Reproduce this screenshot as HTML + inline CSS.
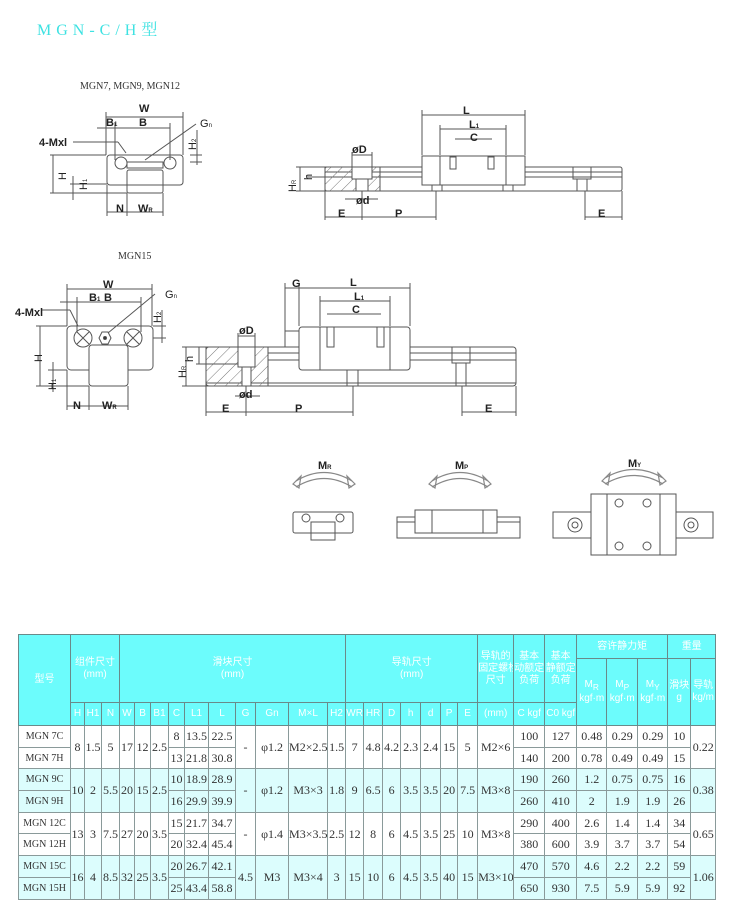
<!DOCTYPE html>
<html><head><meta charset="utf-8">
<style>
body{margin:0;width:730px;height:917px;background:#fff;position:relative;overflow:hidden;font-family:"Liberation Serif","Noto Serif CJK SC",serif;}
.t{position:absolute;white-space:nowrap}
table{position:absolute;left:18px;top:634px;width:697px;border-collapse:collapse;table-layout:fixed;font-size:12px;color:#333}
td{border:1px solid #8a9a9a;text-align:center;padding:0;overflow:hidden;white-space:nowrap}
.h td{background:#6cfcfc;color:#fff;font-family:"Liberation Sans","Noto Sans CJK SC",sans-serif;font-size:10px;border-color:#6a8a8a;line-height:12px}
.a td{background:#dcfdfd}
.w td{background:#fff}
.m{font-size:10px}
</style></head><body>
<div class="t" style="left:37px;top:17px;font-size:16px;color:#3ee2e2;letter-spacing:5px;font-family:'Liberation Serif','Noto Serif CJK SC',serif">MGN-C/H型</div>
<div class="t" style="left:80px;top:81px;font-size:10px;color:#333">MGN7, MGN9, MGN12</div>
<div class="t" style="left:118px;top:251px;font-size:10px;color:#333">MGN15</div>

<svg width="730" height="620" style="position:absolute;left:0;top:0" font-family="Liberation Sans,sans-serif" fill="none" stroke="#555" stroke-width="1">
<defs><pattern id="hp" width="8" height="8" patternUnits="userSpaceOnUse" patternTransform="rotate(45)"><line x1="0" y1="0" x2="0" y2="8" stroke="#777"/></pattern></defs>
<!-- MGN7 cross-section -->
<rect x="107" y="155" width="76" height="30" rx="3"/>
<rect x="127" y="170" width="36" height="23" rx="2"/>
<circle cx="121" cy="163" r="6"/><circle cx="170" cy="163" r="6"/>
<rect x="127" y="162" width="36" height="6"/>
<line x1="106" y1="112" x2="106" y2="155"/><line x1="183" y1="112" x2="183" y2="155"/>
<line x1="106" y1="117" x2="183" y2="117"/><line x1="97" y1="128" x2="170" y2="128"/>
<line x1="115" y1="123" x2="115" y2="160"/><line x1="170" y1="123" x2="170" y2="160"/>
<line x1="73" y1="142" x2="118" y2="142"/><line x1="118" y1="142" x2="126" y2="153"/>
<line x1="196" y1="124" x2="145" y2="160"/>
<line x1="190" y1="155" x2="202" y2="155"/><line x1="190" y1="162" x2="202" y2="162"/><line x1="197" y1="130" x2="197" y2="165"/>
<line x1="50" y1="155" x2="106" y2="155"/><line x1="50" y1="193" x2="127" y2="193"/><line x1="53" y1="155" x2="53" y2="193"/>
<line x1="70" y1="184" x2="107" y2="184"/><line x1="73" y1="176" x2="73" y2="200"/>
<line x1="107" y1="185" x2="107" y2="216"/><line x1="127" y1="193" x2="127" y2="216"/><line x1="163" y1="193" x2="163" y2="216"/>
<line x1="107" y1="212" x2="163" y2="212"/>
<!-- MGN7 side -->
<rect x="325" y="167" width="297" height="24" rx="2"/>
<line x1="325" y1="172" x2="622" y2="172"/><line x1="325" y1="177" x2="622" y2="177"/>
<rect x="325" y="167" width="55" height="24" fill="url(#hp)"/>
<rect x="352" y="167" width="20" height="12" fill="#fff"/><rect x="356" y="179" width="12" height="12" fill="#fff"/>
<rect x="422" y="156" width="103" height="29" fill="#fff"/>
<line x1="440" y1="156" x2="440" y2="185"/><line x1="506" y1="156" x2="506" y2="185"/>
<rect x="450" y="157" width="6" height="12"/><rect x="488" y="157" width="6" height="12"/>
<rect x="432" y="185" width="10" height="6"/><rect x="503" y="185" width="10" height="6"/>
<rect x="573" y="167" width="18" height="12"/><rect x="577" y="179" width="10" height="12"/>
<line x1="422" y1="110" x2="422" y2="155"/><line x1="525" y1="110" x2="525" y2="155"/><line x1="422" y1="115" x2="525" y2="115"/>
<line x1="440" y1="125" x2="440" y2="155"/><line x1="506" y1="125" x2="506" y2="155"/><line x1="440" y1="129" x2="506" y2="129"/>
<line x1="455" y1="139" x2="492" y2="139"/>
<line x1="352" y1="155" x2="372" y2="155"/><line x1="352" y1="152" x2="352" y2="167"/><line x1="372" y1="152" x2="372" y2="167"/>
<line x1="345" y1="199" x2="378" y2="199"/>
<line x1="325" y1="191" x2="325" y2="220"/><line x1="362" y1="191" x2="362" y2="220"/><line x1="436" y1="191" x2="436" y2="220"/>
<line x1="325" y1="217" x2="436" y2="217"/>
<line x1="585" y1="191" x2="585" y2="220"/><line x1="622" y1="191" x2="622" y2="220"/><line x1="585" y1="217" x2="622" y2="217"/>
<line x1="296" y1="167" x2="325" y2="167"/><line x1="296" y1="191" x2="325" y2="191"/><line x1="300" y1="167" x2="300" y2="191"/><line x1="306" y1="177" x2="325" y2="177"/>
<!-- MGN15 cross-section -->
<rect x="67" y="326" width="86" height="44" rx="4"/>
<rect x="89" y="345" width="39" height="41" rx="3" fill="#fff"/>
<circle cx="83" cy="338" r="9"/><circle cx="133" cy="338" r="9"/>
<path d="M77 332 L89 344 M89 332 L77 344 M127 332 L139 344 M139 332 L127 344"/>
<polygon points="102,332 108,332 111,338 108,344 102,344 99,338"/>
<circle cx="105" cy="338" r="1.5" fill="#333"/>
<line x1="67" y1="284" x2="67" y2="326"/><line x1="152" y1="284" x2="152" y2="326"/><line x1="67" y1="289" x2="152" y2="289"/>
<line x1="60" y1="302" x2="141" y2="302"/><line x1="77" y1="297" x2="77" y2="332"/><line x1="141" y1="297" x2="141" y2="332"/>
<line x1="42" y1="310" x2="70" y2="310"/><line x1="70" y1="310" x2="78" y2="326"/>
<line x1="155" y1="294" x2="108" y2="333"/>
<line x1="153" y1="326" x2="166" y2="326"/><line x1="153" y1="338" x2="166" y2="338"/><line x1="162" y1="310" x2="162" y2="343"/>
<line x1="36" y1="326" x2="67" y2="326"/><line x1="36" y1="386" x2="89" y2="386"/><line x1="40" y1="326" x2="40" y2="386"/>
<line x1="48" y1="370" x2="67" y2="370"/><line x1="53" y1="362" x2="53" y2="392"/>
<line x1="67" y1="370" x2="67" y2="410"/><line x1="89" y1="386" x2="89" y2="410"/><line x1="128" y1="386" x2="128" y2="410"/>
<line x1="67" y1="406" x2="128" y2="406"/>
<!-- MGN15 side -->
<rect x="206" y="347" width="310" height="39" rx="3"/>
<line x1="268" y1="353" x2="516" y2="353"/><line x1="268" y1="360" x2="516" y2="360"/><line x1="206" y1="383" x2="516" y2="383"/>
<rect x="206" y="347" width="62" height="39" fill="url(#hp)"/>
<rect x="238" y="347" width="17" height="20" fill="#fff"/><rect x="242" y="367" width="9" height="19" fill="#fff"/>
<rect x="285" y="331" width="14" height="16" fill="#fff"/>
<rect x="299" y="327" width="111" height="43" rx="3" fill="#fff"/>
<line x1="320" y1="327" x2="320" y2="370"/><line x1="390" y1="327" x2="390" y2="370"/>
<rect x="327" y="327" width="7" height="20"/><rect x="377" y="327" width="7" height="20"/>
<rect x="347" y="370" width="11" height="16"/>
<rect x="452" y="347" width="18" height="16"/><rect x="456" y="363" width="10" height="23"/>
<line x1="299" y1="283" x2="299" y2="326"/><line x1="410" y1="283" x2="410" y2="326"/><line x1="299" y1="288" x2="410" y2="288"/>
<line x1="285" y1="288" x2="299" y2="288"/><line x1="285" y1="283" x2="285" y2="331"/>
<line x1="320" y1="296" x2="320" y2="326"/><line x1="390" y1="296" x2="390" y2="326"/><line x1="320" y1="301" x2="390" y2="301"/>
<line x1="327" y1="314" x2="381" y2="314"/>
<line x1="238" y1="336" x2="255" y2="336"/><line x1="238" y1="333" x2="238" y2="347"/><line x1="255" y1="333" x2="255" y2="347"/>
<line x1="235" y1="396" x2="260" y2="396"/>
<line x1="206" y1="386" x2="206" y2="416"/><line x1="246" y1="386" x2="246" y2="416"/><line x1="353" y1="386" x2="353" y2="416"/>
<line x1="206" y1="412" x2="353" y2="412"/>
<line x1="462" y1="386" x2="462" y2="416"/><line x1="516" y1="386" x2="516" y2="416"/><line x1="462" y1="412" x2="516" y2="412"/>
<line x1="182" y1="347" x2="206" y2="347"/><line x1="182" y1="386" x2="206" y2="386"/><line x1="186" y1="347" x2="186" y2="386"/>
<line x1="196" y1="364" x2="238" y2="364"/><line x1="199" y1="347" x2="199" y2="364"/>
<!-- moment diagrams -->
<g stroke="#888" stroke-width="1.2">
<path d="M296 487 Q324 470 352 487"/><path d="M296 481 Q324 464 352 481"/><path d="M293 484 l8 -8 l-2 12z M355 484 l-8 -8 l2 12z"/>
<path d="M432 487 Q460 470 488 487"/><path d="M432 481 Q460 464 488 481"/><path d="M429 484 l8 -8 l-2 12z M491 484 l-8 -8 l2 12z"/>
<path d="M605 484 Q634 467 663 484"/><path d="M605 478 Q634 461 663 478"/><path d="M602 481 l8 -8 l-2 12z M666 481 l-8 -8 l2 12z"/>
</g>
<rect x="293" y="512" width="60" height="21" rx="2"/><rect x="311" y="522" width="24" height="18"/>
<circle cx="306" cy="518" r="4"/><circle cx="340" cy="518" r="4"/>
<rect x="397" y="517" width="123" height="21"/><line x1="397" y1="522" x2="520" y2="522"/>
<rect x="415" y="510" width="82" height="23" fill="#fff"/><line x1="432" y1="510" x2="432" y2="533"/><line x1="483" y1="510" x2="483" y2="533"/>
<rect x="553" y="512" width="160" height="26"/>
<rect x="591" y="494" width="85" height="61" fill="#fff"/><line x1="607" y1="494" x2="607" y2="555"/><line x1="660" y1="494" x2="660" y2="555"/>
<circle cx="575" cy="525" r="7"/><circle cx="575" cy="525" r="3"/><circle cx="691" cy="525" r="7"/><circle cx="691" cy="525" r="3"/>
<circle cx="619" cy="503" r="4"/><circle cx="647" cy="503" r="4"/><circle cx="619" cy="546" r="4"/><circle cx="647" cy="546" r="4"/>
<g fill="#222" stroke="none" font-size="11" font-weight="bold">
<text x="139" y="112">W</text><text x="106" y="126">B<tspan font-size="6">1</tspan></text><text x="139" y="126">B</text>
<text x="200" y="127" font-weight="normal">G<tspan font-size="6">n</tspan></text><text x="39" y="146">4-Mxl</text>
<text x="116" y="212">N</text><text x="138" y="212">W<tspan font-size="6">R</tspan></text>
<text x="463" y="114">L</text><text x="469" y="128">L<tspan font-size="6">1</tspan></text><text x="470" y="141">C</text>
<text x="352" y="153">øD</text><text x="356" y="204">ød</text><text x="338" y="217">E</text><text x="395" y="217">P</text><text x="598" y="217">E</text>
<text x="103" y="288">W</text><text x="89" y="301">B<tspan font-size="6">1</tspan></text><text x="104" y="301">B</text>
<text x="165" y="298" font-weight="normal">G<tspan font-size="6">n</tspan></text><text x="15" y="316">4-Mxl</text>
<text x="73" y="409">N</text><text x="102" y="409">W<tspan font-size="6">R</tspan></text>
<text x="292" y="287">G</text><text x="350" y="286">L</text><text x="354" y="300">L<tspan font-size="6">1</tspan></text><text x="352" y="313">C</text>
<text x="239" y="334">øD</text><text x="239" y="398">ød</text><text x="222" y="412">E</text><text x="295" y="412">P</text><text x="485" y="412">E</text>
<text x="318" y="469">M<tspan font-size="6">R</tspan></text><text x="455" y="469">M<tspan font-size="6">P</tspan></text><text x="628" y="467">M<tspan font-size="6">Y</tspan></text>
<g font-weight="normal"><text transform="translate(66,180) rotate(-90)">H</text><text transform="translate(87,190) rotate(-90)">H<tspan font-size="6">1</tspan></text>
<text transform="translate(196,150) rotate(-90)">H<tspan font-size="6">2</tspan></text><text transform="translate(296,192) rotate(-90)">H<tspan font-size="6">R</tspan></text><text transform="translate(312,180) rotate(-90)">h</text>
<text transform="translate(42,362) rotate(-90)">H</text><text transform="translate(56,390) rotate(-90)">H<tspan font-size="6">1</tspan></text>
<text transform="translate(161,323) rotate(-90)">H<tspan font-size="6">2</tspan></text><text transform="translate(186,378) rotate(-90)">H<tspan font-size="6">R</tspan></text><text transform="translate(193,362) rotate(-90)">h</text></g>
</g>
</svg>

<table>
<colgroup>
<col style="width:52px"><col style="width:14px"><col style="width:17px"><col style="width:18px"><col style="width:15px"><col style="width:16px"><col style="width:18px"><col style="width:16px"><col style="width:24px"><col style="width:27px"><col style="width:20px"><col style="width:33px"><col style="width:39px"><col style="width:18px"><col style="width:18px"><col style="width:19px"><col style="width:18px"><col style="width:20px"><col style="width:20px"><col style="width:17px"><col style="width:20px"><col style="width:36px"><col style="width:31px"><col style="width:32px"><col style="width:30px"><col style="width:31px"><col style="width:30px"><col style="width:23px"><col style="width:25px">
</colgroup>
<tr class="h" style="height:24px"><td rowspan="3">型号</td><td colspan="3" rowspan="2">组件尺寸<br>(mm)</td><td colspan="10" rowspan="2">滑块尺寸<br>(mm)</td><td colspan="7" rowspan="2">导轨尺寸<br>(mm)</td><td rowspan="2">导轨的<br>固定螺栓<br>尺寸</td><td rowspan="2">基本<br>动额定<br>负荷</td><td rowspan="2">基本<br>静额定<br>负荷</td><td colspan="3">容许静力矩</td><td colspan="2">重量</td></tr>
<tr class="h" style="height:44px"><td rowspan="2" class="m">M<sub>R</sub><br>kgf·m</td><td rowspan="2" class="m">M<sub>P</sub><br>kgf·m</td><td rowspan="2" class="m">M<sub>Y</sub><br>kgf·m</td><td rowspan="2">滑块<br>g</td><td rowspan="2">导轨<br>kg/m</td></tr>
<tr class="h" style="height:23px"><td>H</td><td>H1</td><td>N</td><td>W</td><td>B</td><td>B1</td><td>C</td><td>L1</td><td>L</td><td>G</td><td>Gn</td><td>M×L</td><td>H2</td><td>WR</td><td>HR</td><td>D</td><td>h</td><td>d</td><td>P</td><td>E</td><td>(mm)</td><td class="m">C kgf</td><td class="m">C0 kgf</td></tr>
<tr class="w" style="height:22px"><td class="m">MGN 7C</td><td rowspan="2">8</td><td rowspan="2">1.5</td><td rowspan="2">5</td><td rowspan="2">17</td><td rowspan="2">12</td><td rowspan="2">2.5</td><td>8</td><td>13.5</td><td>22.5</td><td rowspan="2">-</td><td rowspan="2">φ1.2</td><td rowspan="2">M2×2.5</td><td rowspan="2">1.5</td><td rowspan="2">7</td><td rowspan="2">4.8</td><td rowspan="2">4.2</td><td rowspan="2">2.3</td><td rowspan="2">2.4</td><td rowspan="2">15</td><td rowspan="2">5</td><td rowspan="2">M2×6</td><td>100</td><td>127</td><td>0.48</td><td>0.29</td><td>0.29</td><td>10</td><td rowspan="2">0.22</td></tr>
<tr class="w" style="height:21px"><td class="m">MGN 7H</td><td>13</td><td>21.8</td><td>30.8</td><td>140</td><td>200</td><td>0.78</td><td>0.49</td><td>0.49</td><td>15</td></tr>
<tr class="a" style="height:22px"><td class="m">MGN 9C</td><td rowspan="2">10</td><td rowspan="2">2</td><td rowspan="2">5.5</td><td rowspan="2">20</td><td rowspan="2">15</td><td rowspan="2">2.5</td><td>10</td><td>18.9</td><td>28.9</td><td rowspan="2">-</td><td rowspan="2">φ1.2</td><td rowspan="2">M3×3</td><td rowspan="2">1.8</td><td rowspan="2">9</td><td rowspan="2">6.5</td><td rowspan="2">6</td><td rowspan="2">3.5</td><td rowspan="2">3.5</td><td rowspan="2">20</td><td rowspan="2">7.5</td><td rowspan="2">M3×8</td><td>190</td><td>260</td><td>1.2</td><td>0.75</td><td>0.75</td><td>16</td><td rowspan="2">0.38</td></tr>
<tr class="a" style="height:22px"><td class="m">MGN 9H</td><td>16</td><td>29.9</td><td>39.9</td><td>260</td><td>410</td><td>2</td><td>1.9</td><td>1.9</td><td>26</td></tr>
<tr class="w" style="height:21px"><td class="m">MGN 12C</td><td rowspan="2">13</td><td rowspan="2">3</td><td rowspan="2">7.5</td><td rowspan="2">27</td><td rowspan="2">20</td><td rowspan="2">3.5</td><td>15</td><td>21.7</td><td>34.7</td><td rowspan="2">-</td><td rowspan="2">φ1.4</td><td rowspan="2">M3×3.5</td><td rowspan="2">2.5</td><td rowspan="2">12</td><td rowspan="2">8</td><td rowspan="2">6</td><td rowspan="2">4.5</td><td rowspan="2">3.5</td><td rowspan="2">25</td><td rowspan="2">10</td><td rowspan="2">M3×8</td><td>290</td><td>400</td><td>2.6</td><td>1.4</td><td>1.4</td><td>34</td><td rowspan="2">0.65</td></tr>
<tr class="w" style="height:22px"><td class="m">MGN 12H</td><td>20</td><td>32.4</td><td>45.4</td><td>380</td><td>600</td><td>3.9</td><td>3.7</td><td>3.7</td><td>54</td></tr>
<tr class="a" style="height:22px"><td class="m">MGN 15C</td><td rowspan="2">16</td><td rowspan="2">4</td><td rowspan="2">8.5</td><td rowspan="2">32</td><td rowspan="2">25</td><td rowspan="2">3.5</td><td>20</td><td>26.7</td><td>42.1</td><td rowspan="2">4.5</td><td rowspan="2">M3</td><td rowspan="2">M3×4</td><td rowspan="2">3</td><td rowspan="2">15</td><td rowspan="2">10</td><td rowspan="2">6</td><td rowspan="2">4.5</td><td rowspan="2">3.5</td><td rowspan="2">40</td><td rowspan="2">15</td><td rowspan="2">M3×10</td><td>470</td><td>570</td><td>4.6</td><td>2.2</td><td>2.2</td><td>59</td><td rowspan="2">1.06</td></tr>
<tr class="a" style="height:22px"><td class="m">MGN 15H</td><td>25</td><td>43.4</td><td>58.8</td><td>650</td><td>930</td><td>7.5</td><td>5.9</td><td>5.9</td><td>92</td></tr>
</table>
</body></html>
